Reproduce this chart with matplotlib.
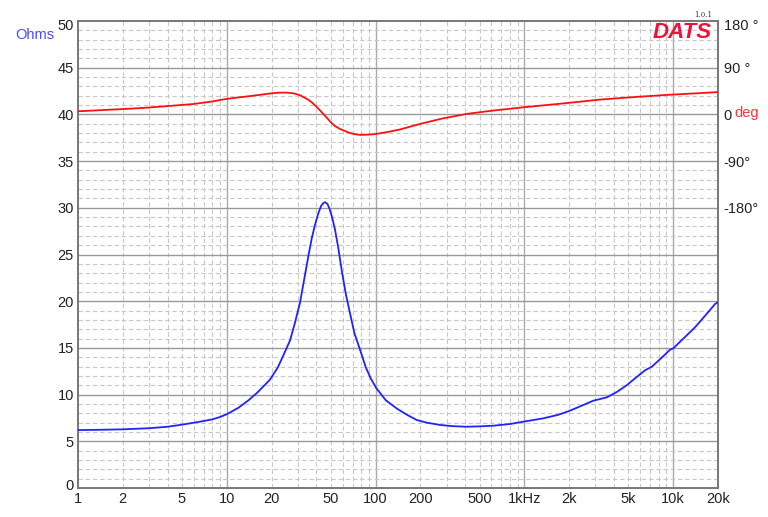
import numpy as np
import matplotlib.pyplot as plt
from matplotlib.transforms import ScaledTranslation

# impedance magnitude (ohms)
freq_z = [1, 1.5, 2, 3, 4, 5, 6.6, 8, 9, 10, 12, 14, 16, 19.5, 22, 24, 26.6,
          28.5, 31, 33, 35.3, 37.3, 39.2, 41, 43, 44.5, 45.9, 47.5, 49, 51,
          53.3, 56, 59.2, 63, 67.3, 72, 78.6, 86, 93, 101, 117, 139, 160,
          189, 220, 271, 330, 410, 500, 618, 800, 984, 1340, 1700, 2024,
          2500, 2905, 3573, 4200, 4866, 5600, 6463, 7200, 8300, 9510, 10000,
          11700, 14000, 16500, 19100, 20000]
ohms = [6.2, 6.24, 6.28, 6.4, 6.56, 6.78, 7.1, 7.35, 7.6, 7.9, 8.6, 9.4,
        10.2, 11.6, 12.9, 14.2, 15.8, 17.5, 19.8, 22.2, 24.8, 26.8, 28.2,
        29.3, 30.2, 30.5, 30.6, 30.4, 29.9, 29.0, 27.7, 25.8, 23.3, 20.8,
        18.7, 16.6, 14.8, 12.9, 11.7, 10.7, 9.4, 8.5, 7.9, 7.28, 7.0, 6.75,
        6.62, 6.56, 6.6, 6.67, 6.85, 7.1, 7.46, 7.85, 8.28, 8.9, 9.35, 9.7,
        10.3, 11.0, 11.8, 12.6, 13.0, 13.9, 14.8, 14.95, 16.0, 17.2, 18.5,
        19.7, 19.9]

# impedance phase (degrees)
freq_p = [1, 1.5, 2, 2.75, 4, 5.95, 8, 10, 15, 20.5, 23, 25, 28, 31, 34.5,
          37, 40, 44.5, 50, 53, 57.6, 66, 72, 78.6, 90, 101, 120, 146, 199,
          280, 410, 600, 984, 1800, 3210, 5500, 9100, 14000, 20000]
phase = [6, 8.5, 10.3, 12.5, 16, 20, 25, 30, 36, 41, 42, 42, 40.7, 37, 30,
         24, 15, 1, -15, -22, -28, -35, -38, -39.5, -39, -37.6, -34, -29,
         -18.3, -8, 1, 7, 13.7, 21, 28.5, 33.5, 37.6, 40.5, 43]

xticks = [1, 2, 5, 10, 20, 50, 100, 200, 500, 1000, 2000, 5000, 10000, 20000]
xlabels = ['1', '2', '5', '10', '20', '50', '100', '200', '500', '1kHz',
           '2k', '5k', '10k', '20k']
phase_ticks = [180, 90, 0, -90, -180]
phase_labels = ['180 °', '90 °', '0', '-90°', '-180°']

plt.rcParams['font.family'] = ['Liberation Sans', 'DejaVu Sans']

fig = plt.figure(figsize=(7.68, 5.17), dpi=100)
ax = fig.add_axes([78 / 768, 1 - 488 / 517, 640 / 768, 467 / 517])

ax.set_xscale('log')
ax.set_xlim(1, 20000)
ax.set_ylim(0, 50)

# grid lines
for dec in [1, 10, 100, 1000]:
    for m in range(2, 10):
        f = dec * m
        if f < 20000:
            ax.axvline(f, color='#c8c8c8', lw=0.8, ls=(0, (4, 2.5)), zorder=1)
for f in [10, 100, 1000, 10000]:
    ax.axvline(f, color='#aaaaaa', lw=1.0, zorder=1)
for v in range(1, 50):
    if v % 5 == 0:
        ax.axhline(v, color='#999999', lw=1.0, zorder=1)
    else:
        ax.axhline(v, color='#c8c8c8', lw=0.8, ls=(0, (4, 2.5)), zorder=1)

ax.plot(freq_z, ohms, color='#2222ff', lw=1.3, zorder=3)

ax.set_xticks(xticks)
ax.set_xticklabels(xlabels)
ax.xaxis.set_minor_locator(plt.NullLocator())
ax.set_yticks(range(0, 51, 5))
ax.tick_params(length=0, labelsize=10.5, colors='#222222', pad=3)
ax.tick_params(axis='x', pad=3)
for s in ax.spines.values():
    s.set_color('#777777')
    s.set_linewidth(1.4)

ax2 = ax.twinx()
ax2.set_ylim(-720, 180)
ax2.plot(freq_p, phase, color='#ff1010', lw=1.3, zorder=3)
ax2.set_yticks(phase_ticks)
ax2.set_yticklabels(phase_labels)
ax2.tick_params(length=0, labelsize=10.5, colors='#222222', pad=4)
for s in ax2.spines.values():
    s.set_visible(False)

# edge labels sit a little inside the frame
down = ScaledTranslation(0, -4 / 100, fig.dpi_scale_trans)
up = ScaledTranslation(0, 3 / 100, fig.dpi_scale_trans)
ylabs = ax.get_yticklabels()
ylabs[-1].set_transform(ylabs[-1].get_transform() + down)
ylabs[0].set_transform(ylabs[0].get_transform() + up)
plabs = ax2.get_yticklabels()
plabs[0].set_transform(plabs[0].get_transform() + down)

fig.text(15 / 768, 1 - 35 / 517, 'Ohms', color='#4a4aff', fontsize=10.5,
         va='center', ha='left')
fig.text(734 / 768, 1 - 113 / 517, 'deg', color='#ff3333', fontsize=10.5,
         va='center', ha='left')
fig.text(712 / 768, 1 - 32 / 517, 'DATS', color='#f0103a', fontsize=16,
         fontweight='bold', fontstyle='italic', va='center', ha='right')
fig.text(712 / 768, 1 - 15 / 517, '1.0.1', color='#333333', fontsize=5,
         va='center', ha='right', family='DejaVu Serif')

fig.savefig('out.png', dpi=100)
